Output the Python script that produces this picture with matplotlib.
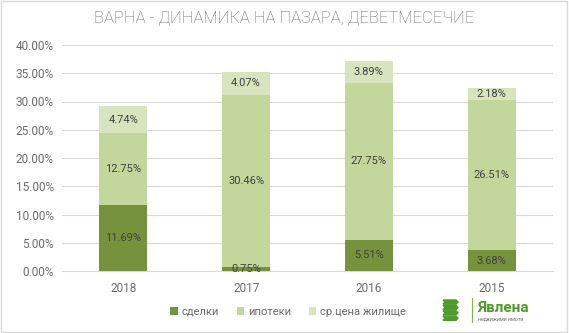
import matplotlib
matplotlib.use("Agg")
import matplotlib.pyplot as plt
from matplotlib.patches import Rectangle, Polygon
import numpy as np

# ── data ─────────────────────────────────────────────────────────────────────
years = ["2018", "2017", "2016", "2015"]
deals = [11.69, 0.75, 5.51, 3.68]
mortgages = [12.75, 30.46, 27.75, 26.51]
avg_price = [4.74, 4.07, 3.89, 2.18]
series_names = ["сделки", "ипотеки", "ср.цена жилище"]

C_DARK = "#76923C"
C_MID = "#C3D69B"
C_LIGHT = "#D7E4BD"
C_TXT = "#404040"
C_TICK = "#6B6B6B"
C_GRID = "#D9D9D9"

plt.rcParams["font.family"] = ["Roboto", "DejaVu Sans"]

fig = plt.figure(figsize=(5.69, 3.33), dpi=100)
fig.patch.set_facecolor("white")
ax = fig.add_axes([62 / 569, 62 / 333, 491 / 569, 226 / 333])

x = np.arange(len(years))
w = 0.39
b1 = ax.bar(x, deals, w, color=C_DARK, label=series_names[0], zorder=3)
bottom2 = np.array(deals)
b2 = ax.bar(x, mortgages, w, bottom=bottom2, color=C_MID, label=series_names[1], zorder=3)
bottom3 = bottom2 + np.array(mortgages)
b3 = ax.bar(x, avg_price, w, bottom=bottom3, color=C_LIGHT, label=series_names[2], zorder=3)

for bars, vals, bots in [(b1, deals, np.zeros(4)), (b2, mortgages, bottom2), (b3, avg_price, bottom3)]:
    for rect, v, b in zip(bars, vals, bots):
        ax.text(rect.get_x() + rect.get_width() / 2, b + v / 2, f"{v:.2f}%",
                ha="center", va="center", fontsize=8, color=C_TXT, zorder=4)

ax.set_xlim(-0.5, len(years) - 0.5)
ax.set_ylim(0, 40)
ax.set_yticks(np.arange(0, 40.1, 5))
ax.set_yticklabels([f"{t:.2f}%" for t in np.arange(0, 40.1, 5)])
ax.set_xticks(x)
ax.set_xticklabels(years)
ax.grid(axis="y", color=C_GRID, lw=0.8, zorder=0)
for s in ["top", "right", "left"]:
    ax.spines[s].set_visible(False)
ax.spines["bottom"].set_color(C_GRID)
ax.tick_params(axis="both", length=0, colors=C_TICK, labelsize=8.5)
ax.tick_params(axis="x", pad=8)
ax.tick_params(axis="y", pad=6)

fig.text(0.5, 1 - 18 / 333, "ВАРНА - ДИНАМИКА НА ПАЗАРА, ДЕВЕТМЕСЕЧИЕ",
         ha="center", va="center", fontsize=12, color=C_TICK, fontweight="light")

leg = fig.legend(handles=[b1, b2, b3], loc="center", bbox_to_anchor=(288 / 569, 1 - 312 / 333),
                 ncol=3, frameon=False, fontsize=8, handlelength=0.7, handleheight=0.7,
                 handletextpad=0.3, columnspacing=1.6)
for t in leg.get_texts():
    t.set_color(C_TICK)

# ── logo (pixel coordinates) ─────────────────────────────────────────────────
lax = fig.add_axes([440 / 569, 1 - 328 / 333, 100 / 569, 35 / 333])
lax.set_xlim(440, 540)
lax.set_ylim(328, 293)
lax.axis("off")
for i in range(4):
    y0 = 300 + i * 5.4
    lax.add_patch(Polygon([(443, y0), (456, y0), (458, y0 + 2), (456, y0 + 4.2),
                           (443, y0 + 4.2), (445, y0 + 2)],
                          closed=True, color="#4E9A2B"))
lax.plot([472, 472], [298, 322], color="#7FB34D", lw=0.8)
lax.text(477, 308, "Явлена", fontsize=11, color="#4E9A2B", fontweight="bold",
         va="center", ha="left")
lax.text(478, 318.5, "недвижими имоти", fontsize=3.8, color="#6F6F6F", va="center", ha="left")

fig.patches.append(Rectangle((0.002, 0.003), 0.995, 0.994, transform=fig.transFigure,
                             fill=False, edgecolor=C_GRID, lw=1))

fig.savefig("out.png", dpi=100, facecolor="white")
